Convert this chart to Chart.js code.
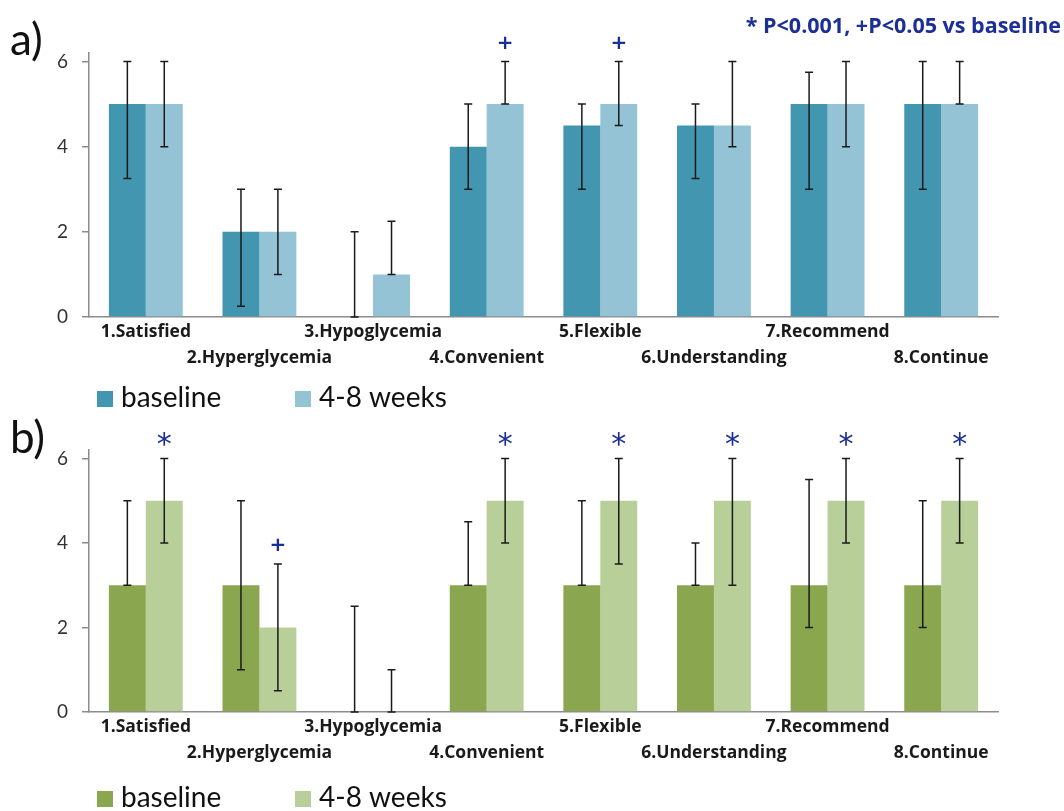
<!DOCTYPE html>
<html>
<head>
<meta charset="utf-8">
<script src="https://cdn.jsdelivr.net/npm/chart.js@4"></script>
<style>
  body { margin: 0; background: #fff; }
  #page { position: relative; width: 1064px; height: 811px; font-family: Lato, "Open Sans", sans-serif; }
  .panel { position: absolute; left: 0; width: 1064px; }
  .tag { position: absolute; left: 10px; font-size: 44px; color: #111; }
  #note { position: absolute; right: 3px; top: 10px; font-family: "Open Sans"; font-size: 21.5px; font-weight: bold; color: #1c2f96; }
</style>
</head>
<body>
<div id="page">
  <div class="panel" style="top:0;height:410px"><canvas id="chartA"></canvas></div>
  <div class="panel" style="top:410px;height:401px"><canvas id="chartB"></canvas></div>
  <div class="tag" style="top:12px">a)</div>
  <div class="tag" style="top:410px">b)</div>
  <div id="note">* P&lt;0.001, +P&lt;0.05 vs baseline</div>
</div>
<script>
const categories = ['1.Satisfied', '2.Hyperglycemia', '3.Hypoglycemia', '4.Convenient',
  '5.Flexible', '6.Understanding', '7.Recommend', '8.Continue'];
const yTicks = [0, 2, 4, 6];

// panel a
const baseA = [5, 2, 0, 4, 4.5, 4.5, 5, 5];
const baseA_low = [3.25, 0.25, 0, 3, 3, 3.25, 3, 3];
const baseA_high = [6, 3, 2, 5, 5, 5, 5.75, 6];
const weeksA = [5, 2, 1, 5, 5, 4.5, 5, 5];
const weeksA_low = [4, 1, 1, 5, 4.5, 4, 4, 5];
const weeksA_high = [6, 3, 2.25, 6, 6, 6, 6, 6];
const sigA = ['', '', '', '+', '+', '', '', ''];

// panel b
const baseB = [3, 3, 0, 3, 3, 3, 3, 3];
const baseB_low = [3, 1, 0, 3, 3, 3, 2, 2];
const baseB_high = [5, 5, 2.5, 4.5, 5, 4, 5.5, 5];
const weeksB = [5, 2, 0, 5, 5, 5, 5, 5];
const weeksB_low = [4, 0.5, 0, 4, 3.5, 3, 4, 4];
const weeksB_high = [6, 3.5, 1, 6, 6, 6, 6, 6];
const sigB = ['*', '+', '', '*', '*', '*', '*', '*'];

// staggered two-row category labels
const tickLabels = categories.map((c, i) => i % 2 === 0 ? [c, ''] : ['', c]);

const errorBars = {
  id: 'errorBars',
  afterDatasetsDraw(chart) {
    const ctx = chart.ctx;
    const y = chart.scales.y;
    chart.data.datasets.forEach((ds, i) => {
      chart.getDatasetMeta(i).data.forEach((bar, j) => {
        const x = bar.x;
        const lo = y.getPixelForValue(ds.errLow[j]);
        const hi = y.getPixelForValue(ds.errHigh[j]);
        ctx.save();
        ctx.strokeStyle = '#1a1a1a';
        ctx.lineWidth = 1.5;
        ctx.beginPath();
        ctx.moveTo(x, lo); ctx.lineTo(x, hi);
        ctx.moveTo(x - 4, lo); ctx.lineTo(x + 4, lo);
        ctx.moveTo(x - 4, hi); ctx.lineTo(x + 4, hi);
        ctx.stroke();
        const mark = ds.sig ? ds.sig[j] : '';
        if (mark) {
          ctx.fillStyle = '#1c2f96';
          ctx.textAlign = 'center';
          ctx.textBaseline = 'middle';
          if (mark === '*') {
            ctx.font = '30px "DejaVu Sans"';
            ctx.fillText(mark, x, hi - 12);
          } else {
            ctx.font = 'bold 20px "DejaVu Sans"';
            ctx.fillText(mark, x, hi - 18);
          }
        }
        ctx.restore();
      });
    });
  }
};

// legend drawn at fixed spots, colours taken from the datasets
const sideLegend = {
  id: 'sideLegend',
  afterDraw(chart, args, opts) {
    const ctx = chart.ctx;
    ctx.save();
    chart.data.datasets.forEach((ds, i) => {
      const x = opts.xs[i];
      ctx.fillStyle = ds.backgroundColor;
      ctx.fillRect(x, opts.y - 8, 16, 16);
      ctx.fillStyle = '#111';
      ctx.font = '28px Lato';
      ctx.textBaseline = 'middle';
      ctx.textAlign = 'left';
      ctx.fillText(ds.label, x + 24, opts.y - 1);
    });
    ctx.restore();
  }
};

function makeChart(id, sets, cfg) {
  return new Chart(document.getElementById(id), {
    type: 'bar',
    data: {
      labels: tickLabels,
      datasets: sets.map(s => ({
        label: s.label,
        data: s.data,
        errLow: s.low,
        errHigh: s.high,
        sig: s.sig,
        backgroundColor: s.color,
        borderWidth: 0,
        categoryPercentage: 0.65,
        barPercentage: 1
      }))
    },
    options: {
      responsive: true,
      maintainAspectRatio: false,
      animation: false,
      layout: { padding: { top: cfg.top, right: 66, left: 0, bottom: 0 } },
      plugins: {
        legend: { display: false },
        tooltip: { enabled: false },
        sideLegend: { y: cfg.legendY, xs: [97, 295] }
      },
      scales: {
        x: {
          grid: { display: false },
          border: { color: '#8c8c8c', width: 1.5 },
          ticks: {
            autoSkip: false, maxRotation: 0, padding: -5,
            color: '#1a1a1a',
            font: { family: 'Open Sans', weight: 'bold', size: 17.5, lineHeight: 1.43 }
          },
          afterFit: s => { s.height = cfg.xh; }
        },
        y: {
          min: 0, max: 6.2,
          afterBuildTicks: axis => { axis.ticks = yTicks.map(v => ({ value: v })); },
          grid: { display: true, drawOnChartArea: false, drawTicks: true, tickLength: 7, color: '#8c8c8c', lineWidth: 1.5 },
          border: { color: '#8c8c8c', width: 1.5 },
          ticks: { padding: 14, color: '#333', font: { family: 'Lato', size: 19 } },
          afterFit: s => { s.width = 89; }
        }
      }
    },
    plugins: [errorBars, sideLegend]
  });
}

makeChart('chartA', [
  { label: 'baseline', data: baseA, low: baseA_low, high: baseA_high, sig: null, color: '#4396af' },
  { label: '4-8 weeks', data: weeksA, low: weeksA_low, high: weeksA_high, sig: sigA, color: '#94c3d5' }
], { top: 53, xh: 93, legendY: 399 });

makeChart('chartB', [
  { label: 'baseline', data: baseB, low: baseB_low, high: baseB_high, sig: null, color: '#8aa64e' },
  { label: '4-8 weeks', data: weeksB, low: weeksB_low, high: weeksB_high, sig: sigB, color: '#b9cf99' }
], { top: 40, xh: 99, legendY: 389 });
</script>
</body>
</html>
